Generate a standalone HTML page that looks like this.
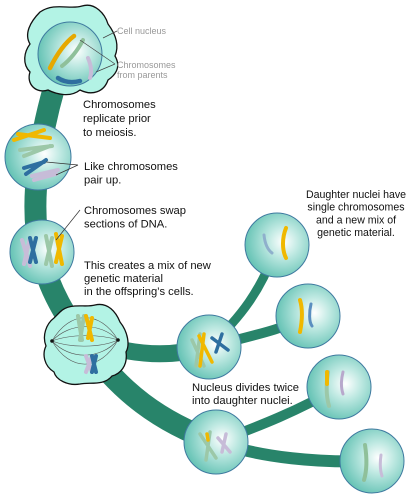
<!DOCTYPE html>
<html><head><meta charset="utf-8"><style>
html,body{margin:0;padding:0;background:#fff;}
svg{display:block;}
text{font-family:"Liberation Sans",sans-serif;}
</style></head><body>
<svg width="413" height="500" viewBox="0 0 413 500">
<defs>
<radialGradient id="cg" cx="0.6" cy="0.45" r="0.6">
<stop offset="0" stop-color="#ffffff"/><stop offset="0.4" stop-color="#bfe9e2"/><stop offset="1" stop-color="#66c3b5"/>
</radialGradient>
</defs>
<g fill="none" stroke="#28846a" stroke-linecap="butt">
<path d="M54 88 C42 130,28 200,40 251 C48 290,68 320,85 343 C120 392,160 422,216 442" stroke-width="22"/>
<path d="M110 347 C145 356,175 356,209 347" stroke-width="17"/>
<path d="M209 347 C240 318,262 290,277 245" stroke-width="9"/>
<path d="M209 347 C250 336,282 330,308 316" stroke-width="10"/>
<path d="M216 442 C260 426,300 410,339 387" stroke-width="10"/>
<path d="M216 442 C262 458,320 463,372 461" stroke-width="12"/>
</g>
<g>
<path d="M40 12 C55 2,70 10,82 6 C95 2,105 14,108 24 C114 32,120 44,115 56 C122 68,114 76,108 80 C104 92,92 96,80 90 C70 98,56 94,48 90 C36 94,26 84,30 72 C22 64,24 52,30 44 C24 34,30 22,40 12 Z" fill="#b3f3e5" stroke="#111" stroke-width="1.3"/>
<circle cx="70" cy="54" r="32" fill="url(#cg)" stroke="#3f7aa0" stroke-width="1"/>
<path d="M50 68 C58 52,66 42,74 36" stroke="#e6a800" stroke-width="4.5" fill="none" stroke-linecap="round"/>
<path d="M62 66 C70 60,78 50,83 40" stroke="#8fc09a" stroke-width="4" fill="none" stroke-linecap="round"/>
<path d="M88 58 C91 65,92 72,90 78" stroke="#c7bcd8" stroke-width="4" fill="none" stroke-linecap="round"/>
<path d="M58 78 C64 82,72 83,80 81" stroke="#2e6fa0" stroke-width="4.5" fill="none" stroke-linecap="round"/>
<line x1="103" y1="38" x2="117" y2="31" stroke="#444" stroke-width="0.7"/>
<path d="M80 40 L115 64 M96 72 L115 64" stroke="#444" stroke-width="0.7" fill="none"/>
</g>
<g>
<circle cx="38" cy="157" r="33" fill="url(#cg)" stroke="#3f7aa0" stroke-width="1"/>
<path d="M14 140 L44 130 M18 134 L50 138" stroke="#f0b800" stroke-width="4" stroke-linecap="round"/>
<path d="M20 150 L52 146 M24 156 L50 146" stroke="#9cc8a8" stroke-width="4" stroke-linecap="round"/>
<path d="M24 168 L44 162 M26 174 L46 160" stroke="#2e6fa0" stroke-width="4" stroke-linecap="round"/>
<path d="M32 176 L58 170 M34 180 L56 174" stroke="#c7bcd8" stroke-width="4" stroke-linecap="round"/>
<path d="M46 162 L78 165 M56 175 L78 165" stroke="#333" stroke-width="0.7" fill="none"/>
</g>
<g>
<circle cx="42" cy="252" r="32" fill="url(#cg)" stroke="#3f7aa0" stroke-width="1"/>
<path d="M22 240 L30 266 M30 238 L24 264" stroke="#c7bcd8" stroke-width="4" stroke-linecap="round"/>
<path d="M30 238 L36 262 M36 238 L30 262" stroke="#2e6fa0" stroke-width="4" stroke-linecap="round"/>
<path d="M46 236 L52 266 M52 238 L46 264" stroke="#9cc8a8" stroke-width="4" stroke-linecap="round"/>
<path d="M56 234 L62 264 M62 236 L56 262" stroke="#f0b800" stroke-width="4" stroke-linecap="round"/>
<path d="M56 240 L80 210" stroke="#333" stroke-width="0.7"/>
</g>
<g>
<path d="M60 312 C70 302,85 308,95 305 C108 302,116 312,120 322 C128 332,130 345,126 352 C128 366,120 374,112 376 C104 386,90 382,80 384 C68 386,56 380,54 372 C44 366,42 354,46 346 C42 336,46 324,54 318 Z" fill="#b3f3e5" stroke="#111" stroke-width="1.3"/>
<g stroke="#555" stroke-width="0.6" fill="none">
<path d="M52 341 C70 310,100 310,118 340"/><path d="M52 341 C70 322,100 322,118 340"/><path d="M52 341 C70 334,100 334,118 340"/><path d="M52 341 C70 348,100 348,118 340"/><path d="M52 341 C70 360,100 360,118 340"/><path d="M52 341 C70 372,100 372,118 340"/>
</g>
<circle cx="52" cy="341" r="1.8" fill="#111"/><circle cx="118" cy="340" r="1.8" fill="#111"/>
<path d="M78 316 L82 340 M84 316 L80 340" stroke="#9cc8a8" stroke-width="4" stroke-linecap="round"/>
<path d="M86 316 L92 340 M92 318 L88 338" stroke="#f0b800" stroke-width="4" stroke-linecap="round"/>
<path d="M86 356 L92 372 M92 356 L86 372" stroke="#c7bcd8" stroke-width="4" stroke-linecap="round"/>
<path d="M92 356 L96 372 M96 356 L92 372" stroke="#2e6fa0" stroke-width="4" stroke-linecap="round"/>
</g>
<g>
<circle cx="209" cy="347" r="32" fill="url(#cg)" stroke="#3f7aa0" stroke-width="1"/>
<path d="M192 340 L204 366 M200 334 L196 366" stroke="#9cc8a8" stroke-width="3.5" stroke-linecap="round"/>
<path d="M199 336 L212 362 M204 334 L200 366" stroke="#f0b800" stroke-width="3.5" stroke-linecap="round"/>
<path d="M212 338 L228 350 M222 334 L216 352" stroke="#2e6fa0" stroke-width="3.5" stroke-linecap="round"/>
</g>
<g>
<circle cx="216" cy="442" r="32" fill="url(#cg)" stroke="#3f7aa0" stroke-width="1"/>
<path d="M200 434 L216 458 M210 432 L206 460" stroke="#9cc8a8" stroke-width="3.5" stroke-linecap="round"/>
<path d="M207 434 L208 440" stroke="#f0b800" stroke-width="3.5" stroke-linecap="round"/>
<path d="M218 438 L230 452 M226 434 L222 452" stroke="#c7bcd8" stroke-width="3.5" stroke-linecap="round"/>
</g>
<g>
<g><circle cx="277" cy="245" r="32" fill="url(#cg)" stroke="#3f7aa0" stroke-width="1"/>
<path d="M264 235 C265 245,268 250,272 253" stroke="#8fb0cc" stroke-width="3" fill="none" stroke-linecap="round"/>
<path d="M286 228 C282 238,282 250,286 258" stroke="#f0b800" stroke-width="4" fill="none" stroke-linecap="round"/></g>
<g><circle cx="308" cy="316" r="32" fill="url(#cg)" stroke="#3f7aa0" stroke-width="1"/>
<path d="M300 300 C303 310,302 322,300 332" stroke="#f0b800" stroke-width="4" fill="none" stroke-linecap="round"/>
<path d="M311 304 C309 312,309 322,312 326" stroke="#5b8fc0" stroke-width="3" fill="none" stroke-linecap="round"/></g>
<g><circle cx="339" cy="387" r="32" fill="url(#cg)" stroke="#3f7aa0" stroke-width="1"/>
<path d="M328 372 C326 385,326 396,329 406" stroke="#9cc8a8" stroke-width="4" fill="none" stroke-linecap="round"/>
<path d="M327 372 L327 384" stroke="#f0b800" stroke-width="4" stroke-linecap="round"/>
<path d="M343 372 C341 380,341 388,343 394" stroke="#b8a8cc" stroke-width="3" fill="none" stroke-linecap="round"/></g>
<g><circle cx="372" cy="461" r="32" fill="url(#cg)" stroke="#3f7aa0" stroke-width="1"/>
<path d="M365 445 C367 458,367 470,364 480" stroke="#8fc09a" stroke-width="4" fill="none" stroke-linecap="round"/>
<path d="M381 455 C380 462,380 470,382 476" stroke="#c7bcd8" stroke-width="3" fill="none" stroke-linecap="round"/></g>
</g>
<g fill="#111" font-size="11.2">
<text x="117" y="34" font-size="9" fill="#999">Cell nucleus</text>
<text x="117" y="68" font-size="9" fill="#999"><tspan x="117">Chromosomes</tspan><tspan x="117" dy="10">from parents</tspan></text>
<text x="83" y="108"><tspan x="83">Chromosomes</tspan><tspan x="83" dy="14">replicate prior</tspan><tspan x="83" dy="14">to meiosis.</tspan></text>
<text x="84" y="170"><tspan x="84">Like chromosomes</tspan><tspan x="84" dy="13.5">pair up.</tspan></text>
<text x="84" y="214"><tspan x="84">Chromosomes swap</tspan><tspan x="84" dy="13.5">sections of DNA.</tspan></text>
<text x="84" y="269"><tspan x="84">This creates a mix of new</tspan><tspan x="84" dy="13">genetic material</tspan><tspan x="84" dy="13">in the offspring’s cells.</tspan></text>
<text x="192" y="391"><tspan x="192">Nucleus divides twice</tspan><tspan x="192" dy="13">into daughter nuclei.</tspan></text>
<text text-anchor="middle" font-size="10.6" y="198"><tspan x="356">Daughter nuclei have</tspan><tspan x="356" dy="12.7">single chromosomes</tspan><tspan x="356" dy="12.7">and a new mix of</tspan><tspan x="356" dy="12.7">genetic material.</tspan></text>
</g>
</svg>
</body></html>
